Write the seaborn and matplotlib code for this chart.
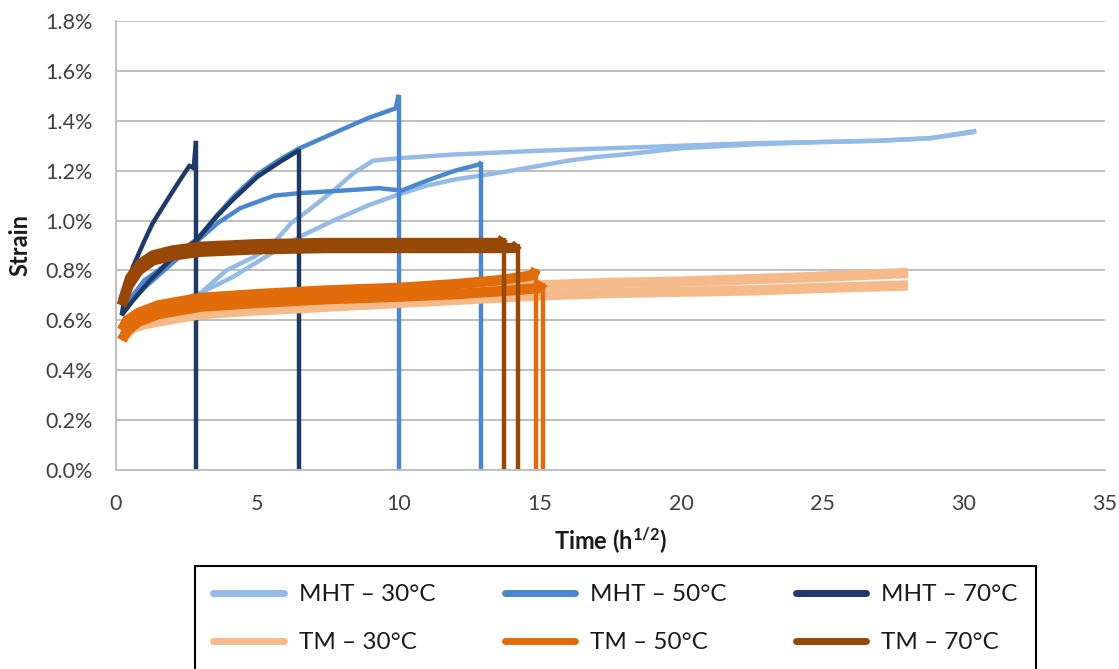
import pandas as pd
import matplotlib
matplotlib.use("Agg")
import matplotlib.pyplot as plt
import seaborn as sns
from matplotlib.lines import Line2D
from matplotlib.ticker import PercentFormatter, MultipleLocator

# time in h^1/2, strain in %; two specimens (a, b) per condition
mht30_a_t = [0.55, 1, 2, 3, 3.9, 4.9, 5.5, 6.2, 6.8, 7.7, 8.4, 9.1, 10, 12, 15, 17.5, 20, 22.5, 25, 27, 28.8, 30.45]
mht30_a_s = [0.61, 0.635, 0.67, 0.71, 0.8, 0.855, 0.9, 0.99, 1.04, 1.12, 1.19, 1.24, 1.25, 1.265, 1.28, 1.29, 1.3, 1.31, 1.315, 1.32, 1.33, 1.36]
mht30_b_t = [0.6, 1, 2, 3, 4.15, 5.3, 6.5, 7.7, 8.9, 10, 11, 12, 12.9, 14, 15, 16, 17, 18, 20, 22.5, 25, 27, 28.8, 30.4]
mht30_b_s = [0.6, 0.62, 0.66, 0.71, 0.775, 0.855, 0.935, 1.0, 1.06, 1.105, 1.14, 1.165, 1.18, 1.2, 1.22, 1.24, 1.255, 1.265, 1.29, 1.305, 1.315, 1.32, 1.33, 1.355]

mht50_a_t = [0.3, 0.6, 1, 1.5, 2, 2.9, 3.6, 4.2, 5, 5.8, 6.5, 7.7, 8.9, 9.9, 10.0, 10.0]
mht50_a_s = [0.64, 0.7, 0.76, 0.8, 0.85, 0.93, 1.025, 1.1, 1.185, 1.245, 1.29, 1.35, 1.41, 1.45, 1.505, 0.0]
mht50_b_t = [0.3, 0.6, 1, 1.5, 2, 2.9, 3.6, 4.4, 5.6, 6.5, 8, 9.3, 10.1, 11, 12, 12.85, 12.93, 12.93]
mht50_b_s = [0.64, 0.68, 0.73, 0.78, 0.83, 0.92, 0.99, 1.05, 1.1, 1.11, 1.12, 1.13, 1.12, 1.16, 1.2, 1.225, 1.235, 0.0]

mht70_a_t = [0.2, 0.32, 0.6, 0.97, 1.3, 1.8, 2.25, 2.6, 2.75, 2.83, 2.83]
mht70_a_s = [0.62, 0.7, 0.815, 0.91, 0.99, 1.08, 1.16, 1.22, 1.21, 1.32, 0.0]
mht70_b_t = [0.2, 0.6, 1.2, 2, 2.85, 3.55, 4.15, 5, 5.8, 6.45, 6.49, 6.49]
mht70_b_s = [0.62, 0.68, 0.76, 0.85, 0.92, 1.015, 1.085, 1.175, 1.235, 1.28, 1.285, 0.0]

tm30_a_t = [0.3, 0.6, 1, 2, 3, 5, 7.5, 10, 12.5, 15, 17.5, 20, 22.5, 25, 28.03]
tm30_a_s = [0.57, 0.6, 0.615, 0.635, 0.65, 0.665, 0.68, 0.7, 0.72, 0.74, 0.75, 0.755, 0.765, 0.775, 0.79]
tm30_b_t = [0.3, 0.6, 1, 2, 3, 5, 7.5, 10, 12.5, 15, 17.5, 20, 22.5, 25, 28.03]
tm30_b_s = [0.54, 0.57, 0.585, 0.605, 0.625, 0.64, 0.655, 0.67, 0.685, 0.7, 0.71, 0.715, 0.72, 0.73, 0.74]

tm50_a_t = [0.2, 0.4, 0.8, 1.5, 3, 5, 7.5, 10, 12, 13.5, 14.75, 14.87, 14.87]
tm50_a_s = [0.56, 0.6, 0.63, 0.66, 0.69, 0.705, 0.72, 0.73, 0.745, 0.76, 0.78, 0.805, 0.0]
tm50_b_t = [0.2, 0.4, 0.8, 1.5, 3, 5, 7.5, 10, 12, 14, 15.0, 15.11, 15.11]
tm50_b_s = [0.52, 0.56, 0.595, 0.625, 0.655, 0.67, 0.685, 0.695, 0.705, 0.72, 0.73, 0.75, 0.0]

tm70_a_t = [0.25, 0.5, 0.85, 1.3, 2, 3, 5, 7.5, 10, 12, 13.6, 13.72, 13.72]
tm70_a_s = [0.68, 0.77, 0.825, 0.86, 0.88, 0.895, 0.905, 0.91, 0.91, 0.91, 0.91, 0.93, 0.0]
tm70_b_t = [0.2, 0.45, 0.8, 1.3, 2, 3, 5, 7.5, 10, 12, 14.1, 14.22, 14.22]
tm70_b_s = [0.66, 0.74, 0.8, 0.84, 0.86, 0.875, 0.885, 0.89, 0.89, 0.89, 0.89, 0.905, 0.0]

series_names = ["MHT – 30°C", "MHT – 50°C", "MHT – 70°C", "TM – 30°C", "TM – 50°C", "TM – 70°C"]
series_colors = ["#93BBE5", "#4A87CE", "#1F3A66", "#F6BA8A", "#E36C0A", "#974706"]
specimens = {
    "MHT – 30°C": [(mht30_a_t, mht30_a_s), (mht30_b_t, mht30_b_s)],
    "MHT – 50°C": [(mht50_a_t, mht50_a_s), (mht50_b_t, mht50_b_s)],
    "MHT – 70°C": [(mht70_a_t, mht70_a_s), (mht70_b_t, mht70_b_s)],
    "TM – 30°C": [(tm30_a_t, tm30_a_s), (tm30_b_t, tm30_b_s)],
    "TM – 50°C": [(tm50_a_t, tm50_a_s), (tm50_b_t, tm50_b_s)],
    "TM – 70°C": [(tm70_a_t, tm70_a_s), (tm70_b_t, tm70_b_s)],
}

rows = []
for name, specs in specimens.items():
    for k, (t, s) in enumerate(specs):
        failed = s[-1] == 0.0
        for i, (ti, si) in enumerate(zip(t, s)):
            # last two points of a failed specimen form the drop to zero
            rows.append({"time": ti, "strain": si, "series": name,
                         "specimen": f"{name}-{k}",
                         "body": (not failed) or i < len(t) - 1,
                         "drop": failed and i >= len(t) - 2})
df = pd.DataFrame(rows)

sns.set_theme(style="white")
plt.rcParams["font.family"] = ["Lato", "DejaVu Sans"]
plt.rcParams["mathtext.default"] = "regular"

fig = plt.figure(figsize=(11.19, 6.69), dpi=100)
ax = fig.add_axes([116 / 1119, 1 - 470 / 669, (1105 - 116) / 1119, (470 - 21) / 669])

for name, color in zip(series_names, series_colors):
    sub = df[df["series"] == name]
    is_tm = name.startswith("TM")
    sns.lineplot(data=sub[sub["body"]], x="time", y="strain", units="specimen", estimator=None,
                 sort=False, color=color, lw=7.5 if is_tm else 3.2, ax=ax, legend=False,
                 solid_joinstyle="round", solid_capstyle="butt")
    if sub["drop"].any():
        sns.lineplot(data=sub[sub["drop"]], x="time", y="strain", units="specimen", estimator=None,
                     sort=False, color=color, lw=3.2, ax=ax, legend=False,
                     solid_capstyle="butt")

ax.set_xlim(0, 35)
ax.set_ylim(0, 1.8)
ax.xaxis.set_major_locator(MultipleLocator(5))
ax.yaxis.set_major_locator(MultipleLocator(0.2))
ax.yaxis.set_major_formatter(PercentFormatter(xmax=100, decimals=1))
ax.yaxis.grid(True, color="#BFBFBF", lw=1.4)
ax.xaxis.grid(False)
ax.set_axisbelow(True)
for side in ["top", "right"]:
    ax.spines[side].set_visible(False)
for side in ["left", "bottom"]:
    ax.spines[side].set_color("#BFBFBF")
    ax.spines[side].set_linewidth(1.4)
ax.tick_params(axis="both", length=0, labelsize=15.5, labelcolor="#404040")
ax.tick_params(axis="y", pad=17)
ax.tick_params(axis="x", pad=17)
ax.set_xlabel("Time (h$^{1/2}$)", fontsize=17, fontweight="bold", color="#1a1a1a", labelpad=9)
ax.set_ylabel("Strain", fontsize=17, fontweight="bold", color="#1a1a1a", labelpad=10)

handles = {n: Line2D([], [], color=c, lw=5) for n, c in zip(series_names, series_colors)}
order = ["MHT – 30°C", "TM – 30°C", "MHT – 50°C", "TM – 50°C", "MHT – 70°C", "TM – 70°C"]
leg = fig.legend([handles[n] for n in order], order, loc="upper left",
                 bbox_to_anchor=(195 / 1119, 1 - 566 / 669), ncol=3, fontsize=17.5,
                 frameon=True, fancybox=False, framealpha=1, edgecolor="black",
                 handlelength=2.9, handletextpad=0.62, columnspacing=2.85,
                 labelspacing=1.12, borderpad=0.75, borderaxespad=0)
leg.get_frame().set_linewidth(1.5)
for txt in leg.get_texts():
    txt.set_color("#1a1a1a")

fig.savefig("out.png", dpi=100)
